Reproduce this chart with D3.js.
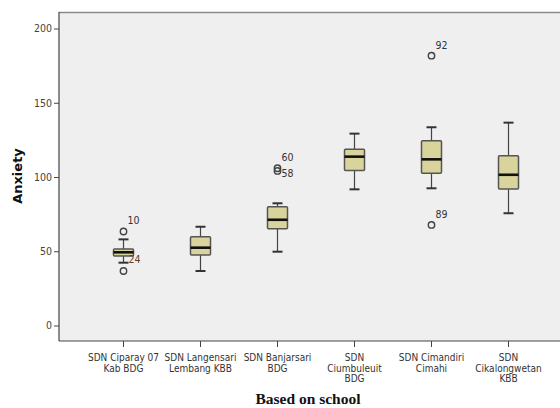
<!DOCTYPE html>
<html><head><meta charset="utf-8">
<script src="https://cdn.jsdelivr.net/npm/d3@7"></script>
<style>body{margin:0;background:#fff}svg{display:block}</style>
</head><body><svg id="c" width="560" height="408"></svg>
<script>
const categories = [
  ["SDN Ciparay 07", "Kab BDG"],
  ["SDN Langensari", "Lembang KBB"],
  ["SDN Banjarsari", "BDG"],
  ["SDN", "Ciumbuleuit", "BDG"],
  ["SDN Cimandiri", "Cimahi"],
  ["SDN", "Cikalongwetan", "KBB"]
];
const whiskerLow  = [42.3, 36.7, 49.7, 91.7, 92.4, 75.6];
const q1          = [46.8, 47.5, 65.1, 104.3, 102.5, 91.9];
const medians     = [49.3, 52.4, 71.2, 113.7, 111.9, 101.5];
const q3          = [51.5, 59.8, 80.0, 118.7, 124.4, 114.3];
const whiskerHigh = [58.0, 66.5, 82.3, 129.2, 133.5, 136.6];
// outliers: [categoryIndex, value, label]
const outliers = [
  [0, 63.3, "10"], [0, 36.7, ""],
  [2, 105.9, "60"], [2, 104.1, "58"],
  [4, 181.7, "92"], [4, 67.7, "89"]
];
const hiddenLabels = [[0, 44.5, "24"]];
const yTicks = [0, 50, 100, 150, 200];

(function () {
const svg = d3.select("#c");
const pL = 59, pT = 12, pR = 562, pB = 341;
const x = d3.scaleBand().domain(d3.range(categories.length)).range([85, 547]).padding(0);
const y = d3.scaleLinear().domain([0, 200]).range([325.5, 28.5]);

svg.append("rect").attr("x", pL).attr("y", pT).attr("width", pR - pL).attr("height", pB - pT).attr("fill", "#efefef");

svg.append("line").attr("x1", pL).attr("x2", pR).attr("y1", pT + 0.5).attr("y2", pT + 0.5).attr("stroke", "#8a8a8a").attr("stroke-width", 1.5);
svg.append("line").attr("x1", pL).attr("x2", pL).attr("y1", pT).attr("y2", pB).attr("stroke", "#444").attr("stroke-width", 1.2);
svg.append("line").attr("x1", pL).attr("x2", pR).attr("y1", pB).attr("y2", pB).attr("stroke", "#444").attr("stroke-width", 1.2);

const yAxis = d3.axisLeft(y).tickValues(yTicks).tickSize(5).tickPadding(2);
const gy = svg.append("g").attr("transform", `translate(${pL},0)`).call(yAxis);
gy.select(".domain").remove();
gy.selectAll("line").attr("stroke", "#444");
gy.selectAll("text").attr("font-family", "DejaVu Sans Condensed, DejaVu Sans, sans-serif").attr("font-size", 10.5).attr("fill", "#444");

const cx = i => x(i) + x.bandwidth() / 2;
const gx = svg.append("g");
categories.forEach((lines, i) => {
  gx.append("line").attr("x1", cx(i)).attr("x2", cx(i)).attr("y1", pB).attr("y2", pB + 6).attr("stroke", "#444");
  const t = gx.append("text").attr("x", cx(i)).attr("y", 361).attr("text-anchor", "middle")
    .attr("font-family", "DejaVu Sans Condensed, DejaVu Sans, sans-serif").attr("font-size", 10).attr("fill", "#333");
  lines.forEach((l, k) => t.append("tspan").attr("x", cx(i)).attr("dy", k === 0 ? 0 : 10.5).text(l));
});

const bw = 20;
categories.forEach((_, i) => {
  const g = svg.append("g");
  const c = cx(i);
  g.append("line").attr("x1", c).attr("x2", c).attr("y1", y(whiskerHigh[i])).attr("y2", y(q3[i])).attr("stroke", "#444").attr("stroke-width", 1.2);
  g.append("line").attr("x1", c).attr("x2", c).attr("y1", y(q1[i])).attr("y2", y(whiskerLow[i])).attr("stroke", "#444").attr("stroke-width", 1.2);
  g.append("line").attr("x1", c - 5).attr("x2", c + 5).attr("y1", y(whiskerHigh[i])).attr("y2", y(whiskerHigh[i])).attr("stroke", "#333").attr("stroke-width", 2);
  g.append("line").attr("x1", c - 5).attr("x2", c + 5).attr("y1", y(whiskerLow[i])).attr("y2", y(whiskerLow[i])).attr("stroke", "#333").attr("stroke-width", 2);
  g.append("rect").attr("x", c - bw / 2).attr("y", y(q3[i])).attr("width", bw).attr("height", y(q1[i]) - y(q3[i]))
    .attr("fill", "#d9d39c").attr("stroke", "#555").attr("stroke-width", 1.5).attr("rx", 1);
  g.append("line").attr("x1", c - bw / 2).attr("x2", c + bw / 2).attr("y1", y(medians[i])).attr("y2", y(medians[i])).attr("stroke", "#111").attr("stroke-width", 2.6);
});

outliers.forEach(([i, v, lab]) => {
  const c = cx(i);
  svg.append("circle").attr("cx", c).attr("cy", y(v)).attr("r", 3.2).attr("fill", "none").attr("stroke", "#444").attr("stroke-width", 1.4);
  if (lab) {
    const dy = (i === 2 && lab === "58") ? 6 : -7;
    svg.append("text").attr("x", c + 4).attr("y", y(v) + dy).attr("font-family", "DejaVu Sans Condensed, DejaVu Sans, sans-serif")
      .attr("font-size", 10.5).attr("fill", "#333").text(lab);
  }
});
hiddenLabels.forEach(([i, v, lab]) => {
  svg.append("text").attr("x", cx(i) + 5).attr("y", y(v) + 4).attr("font-family", "DejaVu Sans Condensed, DejaVu Sans, sans-serif")
    .attr("font-size", 10.5).attr("fill", "#6a3a2a").text(lab);
});

svg.append("text").attr("transform", `translate(22,176) rotate(-90)`).attr("text-anchor", "middle")
  .attr("font-family", "DejaVu Sans, sans-serif").attr("font-weight", "bold").attr("font-size", 13).attr("fill", "#111").text("Anxiety");
svg.append("text").attr("x", 308).attr("y", 404).attr("text-anchor", "middle")
  .attr("font-family", "Liberation Serif, serif").attr("font-weight", "bold").attr("font-size", 15.5).attr("fill", "#111").text("Based on school");
})();
</script></body></html>
